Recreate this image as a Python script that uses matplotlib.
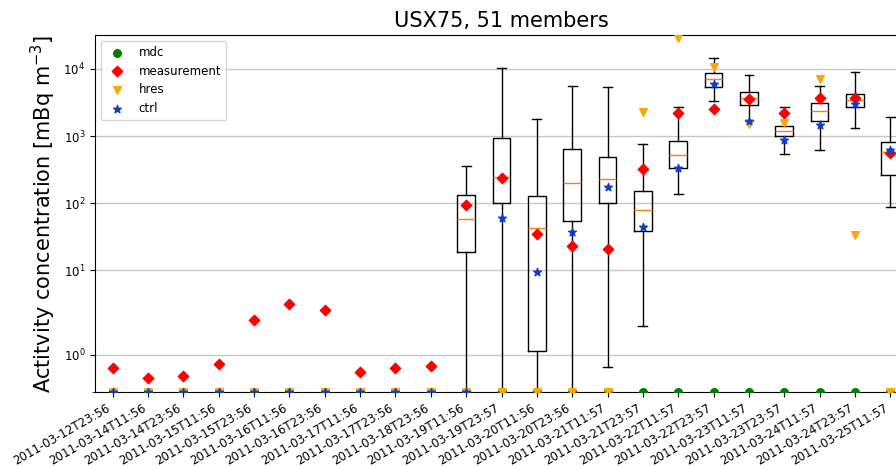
import matplotlib
matplotlib.use("Agg")
import matplotlib.pyplot as plt
from matplotlib.ticker import FixedLocator, LogFormatterSciNotation

dates = ["2011-03-12T23:56", "2011-03-14T11:56", "2011-03-14T23:56", "2011-03-15T11:56",
         "2011-03-15T23:56", "2011-03-16T11:56", "2011-03-16T23:56", "2011-03-17T11:56",
         "2011-03-17T23:56", "2011-03-18T23:56", "2011-03-19T11:56", "2011-03-19T23:57",
         "2011-03-20T11:56", "2011-03-20T23:56", "2011-03-21T11:57", "2011-03-21T23:57",
         "2011-03-22T11:57", "2011-03-22T23:57", "2011-03-23T11:57", "2011-03-23T23:57",
         "2011-03-24T11:57", "2011-03-24T23:57", "2011-03-25T11:57"]

mdc = [0] * 23
measurement = [0.63, 0.37, 0.43, 0.76, 1.93, 3.2, 2.6, 0.53, 0.63, 0.71,
               93, 238, 35.3, 23.4, 21.2, 327, 2197, 2520, 3550, 2240, 3750, 3750, 559]
hres = [0] * 15 + [2300, 28600, 10800, 1520, 1540, 7030, 33.4, 0]
ctrl = [0] * 11 + [60.5, 9.5, 37.5, 172, 45, 330, 5980, 1670, 873, 1438, 3050, 626]

# ensemble box statistics (columns 11..23)
box_pos = list(range(11, 24))
whislo = [0, 0, 0, 0, 0.67, 1.77, 137, 3310, 1670, 540, 626, 1315, 89]
q1 = [18.9, 99.7, 1.09, 55, 99.7, 38.2, 330, 5350, 2950, 1010, 1706, 2750, 263]
med = [57.6, 246, 42.4, 200, 232, 78.4, 527, 7100, 3670, 1210, 2400, 3430, 571]
q3 = [133, 921, 128, 641, 492, 152, 843, 8630, 4510, 1410, 3130, 4210, 815]
whishi = [362, 10450, 1790, 5530, 5400, 769, 2754, 14400, 8140, 2700, 5650, 8930, 1935]

fig = plt.figure(figsize=(8.96, 4.66), dpi=100)
ax = fig.add_axes([95 / 896, 74 / 466, 813 / 896, 357 / 466])

stats = [dict(med=m, q1=a, q3=b, whislo=lo, whishi=hi, fliers=[])
         for m, a, b, lo, hi in zip(med, q1, q3, whislo, whishi)]
ax.bxp(stats, positions=box_pos, widths=0.5, showfliers=False,
       boxprops=dict(linewidth=1.0, color="black"),
       whiskerprops=dict(linewidth=1.0, color="black"),
       capprops=dict(linewidth=1.0, color="black"),
       medianprops=dict(linewidth=1.0, color="#ff7f0e"))

x = list(range(1, 24))
ax.scatter(x, mdc, marker="o", color="green", s=30, label="mdc", zorder=3)
ax.scatter(x, measurement, marker="D", color="red", s=28, label="measurement", zorder=3)
ax.scatter(x, hres, marker="v", color="orange", s=30, label="hres", zorder=3)
ax.scatter(x, ctrl, marker="*", color="#0a3fd0", s=34, label="ctrl", zorder=3)

ax.set_yscale("symlog", linthresh=2)
ax.set_ylim(0, 3.2e4)
ax.set_xlim(0.5, 23.5)
ax.yaxis.set_major_locator(FixedLocator([1, 10, 100, 1000, 10000]))
ax.yaxis.set_major_formatter(LogFormatterSciNotation())
ax.yaxis.grid(True, color="#c8c8c8", linewidth=1.0)
ax.set_axisbelow(True)

ax.set_xticks(x)
ax.set_xticklabels(dates, rotation=30, ha="right", fontsize=8.5)
ax.tick_params(axis="y", labelsize=8.5)

ax.set_title("USX75, 51 members", fontsize=15)
ax.set_ylabel("Actitvity concentration [mBq m$^{-3}$]", fontsize=15)
ax.legend(loc="upper left", fontsize=8.5)

fig.savefig("out.png", dpi=100)
